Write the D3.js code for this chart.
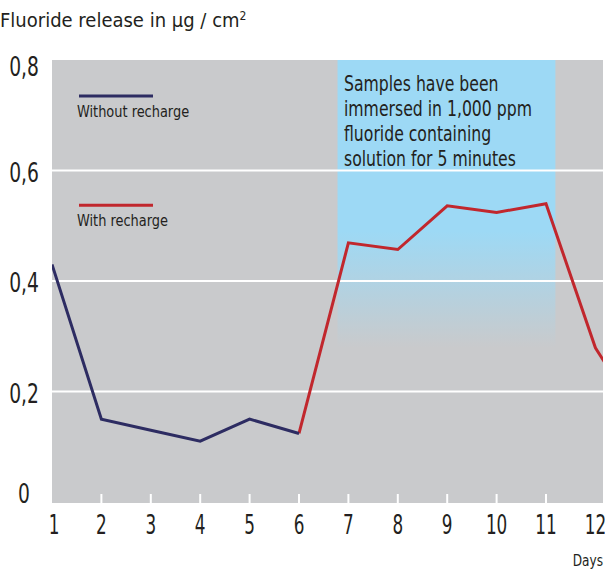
<!DOCTYPE html>
<html><head><meta charset="utf-8">
<script src="https://cdn.jsdelivr.net/npm/d3@7"></script>
<style>
body{margin:0;background:#fff;}
text{font-family:"DejaVu Sans Condensed","Liberation Sans Narrow",sans-serif;fill:#231f20;}
</style></head>
<body><svg id="c" width="605" height="570"></svg>
<script>
const days = [1,2,3,4,5,6,7,8,9,10,11,12,13];
const withoutDays = [1,2,3,4,5,6];
const withoutValues = [0.43,0.15,0.13,0.11,0.15,0.124];
const withDays = [6,7,8,9,10,11,12,13];
const withValues = [0.124,0.469,0.457,0.536,0.524,0.540,0.279,0.14];
const yTicks = [0,0.2,0.4,0.6,0.8];
const yTickLabels = ["0","0,2","0,4","0,6","0,8"];
const xTickLabels = ["1","2","3","4","5","6","7","8","9","10","11","12"];
const rechargeSpan = [6.78, 11.19];
const title = "Fluoride release in µg  / cm";
const annotation = ["Samples have been","immersed in 1,000 ppm","fluoride containing","solution for 5 minutes"];
const legendNames = ["Without recharge","With recharge"];
const colors = {without:"#2d2c62", with:"#c1272d", bg:"#c9cacc", blue:"#9dd9f5"};

(function(){
const svg = d3.select("#c");
const pL=52, pR=603, pT=60, pB=502;
const x = d3.scaleLinear().domain([1,12]).range([52,595.4]);
const y = d3.scaleLinear().domain([0,0.8]).range([pB, pT]);

// narrow text helper: compress horizontally around anchor point
function ntext(parent, tx, ty, s, str, size, anchor){
  const gg = parent.append("g").attr("transform",`translate(${tx},${ty}) scale(${s},1)`);
  return gg.append("text").attr("x",0).attr("y",0).attr("font-size",size)
    .attr("text-anchor",anchor||"start").text(str);
}

const defs = svg.append("defs");
defs.append("clipPath").attr("id","clip").append("rect")
  .attr("x",pL).attr("y",pT).attr("width",pR-pL).attr("height",pB-pT+1);
const g = defs.append("linearGradient").attr("id","blueGrad").attr("gradientUnits","userSpaceOnUse")
  .attr("x1",0).attr("x2",0).attr("y1",y(0.49)).attr("y2",y(0.28));
g.append("stop").attr("offset",0).attr("stop-color",colors.blue);
g.append("stop").attr("offset",1).attr("stop-color",colors.bg);

svg.append("rect").attr("x",pL).attr("y",pT).attr("width",pR-pL).attr("height",pB-pT+1).attr("fill",colors.bg);
svg.append("rect").attr("x",x(rechargeSpan[0])).attr("y",pT)
  .attr("width",x(rechargeSpan[1])-x(rechargeSpan[0])).attr("height",pB-pT+1)
  .attr("fill","url(#blueGrad)");

svg.append("g").selectAll("line").data(yTicks.filter(v=>v>0 && v<0.8)).join("line")
  .attr("x1",pL).attr("x2",pR).attr("y1",d=>y(d)).attr("y2",d=>y(d))
  .attr("stroke","#fff").attr("stroke-width",2);

svg.append("g").selectAll("line").data(days.filter(d=>d>=2 && d<=11)).join("line")
  .attr("x1",d=>x(d)).attr("x2",d=>x(d)).attr("y1",pB-8).attr("y2",pB+1)
  .attr("stroke","#fff").attr("stroke-width",2);

const line = d3.line().x(d=>x(d[0])).y(d=>y(d[1]));
const lg = svg.append("g").attr("clip-path","url(#clip)");
lg.append("path").datum(withDays.map((d,i)=>[d,withValues[i]])).attr("d",line)
  .attr("fill","none").attr("stroke",colors.with).attr("stroke-width",3);
lg.append("path").datum(withoutDays.map((d,i)=>[d,withoutValues[i]])).attr("d",line)
  .attr("fill","none").attr("stroke",colors.without).attr("stroke-width",3);

// y labels
const yl = svg.append("g");
yTicks.forEach((v,i)=>{
  ntext(yl, 24, Math.min(Math.max(y(v)+2,67),494), 0.8, yTickLabels[i], 26, "middle").attr("dy","0.36em");
});

// x labels
const xl = svg.append("g");
xTickLabels.forEach((d,i)=>{
  ntext(xl, x(i+1)+(i===0?2:0), 525, 0.72, d, 26, "middle").attr("dy","0.36em");
});

ntext(svg, 603, 566, 0.9, "Days", 15, "end");

const t = svg.append("text").attr("x",0).attr("y",27).attr("font-size",20).text(title);
t.append("tspan").attr("font-size",12).attr("dy",-7).text("2");

const legY = [0.735, 0.537];
const legColors = [colors.without, colors.with];
legendNames.forEach((n,i)=>{
  const ly = y(legY[i]);
  svg.append("line").attr("x1",79).attr("x2",153).attr("y1",ly).attr("y2",ly)
    .attr("stroke",legColors[i]).attr("stroke-width",3);
  ntext(svg, 77, ly+21, 0.96, n, 15, "start");
});

annotation.forEach((d,i)=>{
  ntext(svg, 344, 91+i*25, 0.85, d, 20.5, "start");
});
})();
</script></body></html>
